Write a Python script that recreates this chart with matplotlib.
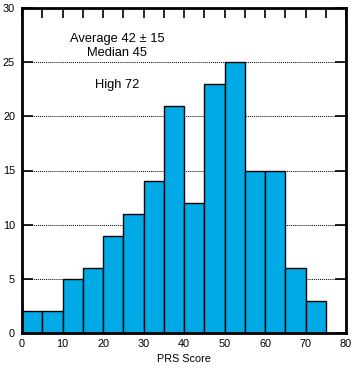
import matplotlib
matplotlib.use('Agg')
import matplotlib.pyplot as plt
import numpy as np

# histogram data (bin edges every 5)
bin_edges = [0, 5, 10, 15, 20, 25, 30, 35, 40, 45, 50, 55, 60, 65, 70, 75]
counts = [2, 2, 5, 6, 9, 11, 14, 21, 12, 23, 25, 15, 15, 6, 3]
annot_lines = ['Average 42 \u00b1 15', 'Median 45']
high_text = 'High 72'

plt.rcParams['font.family'] = ['Liberation Sans', 'DejaVu Sans']

fig = plt.figure(figsize=(3.57, 3.72), dpi=100)
ax = fig.add_axes([22/357, 1 - 333/372, 324/357, 325/372])

lefts = np.array(bin_edges[:-1])
widths = np.diff(bin_edges)
ax.bar(lefts, counts, width=widths, align='edge', color='#00aae6',
       edgecolor='black', linewidth=1.0, zorder=3)

# dotted grid lines
for yv in [5, 10, 15, 20, 25]:
    ax.axhline(yv, color='black', linestyle=(0, (1, 1)), linewidth=0.7, zorder=1)

ax.set_xlim(0, 80)
ax.set_ylim(0, 30)
ax.set_xticks(range(0, 81, 10))
ax.set_xticks(range(0, 81, 5), minor=True)
ax.set_yticks(range(0, 31, 5))
ax.tick_params(axis='both', which='both', direction='in', labelsize=7.8,
               width=1.2, color='black')
ax.tick_params(axis='x', which='both', top=True, bottom=False, length=7)
ax.tick_params(axis='y', which='major', right=True, left=True, length=8, pad=5)
ax.tick_params(axis='x', which='major', pad=4)
for s in ax.spines.values():
    s.set_linewidth(2)
    s.set_zorder(5)

ax.set_xlabel('PRS Score', fontsize=7.8, labelpad=4)

ax.text(23.5, 27.1, annot_lines[0], ha='center', va='center', fontsize=9.3)
ax.text(23.5, 25.8, annot_lines[1], ha='center', va='center', fontsize=9.3)
ax.text(23.5, 22.9, high_text, ha='center', va='center', fontsize=9.3)

fig.savefig('out.png', dpi=100)
